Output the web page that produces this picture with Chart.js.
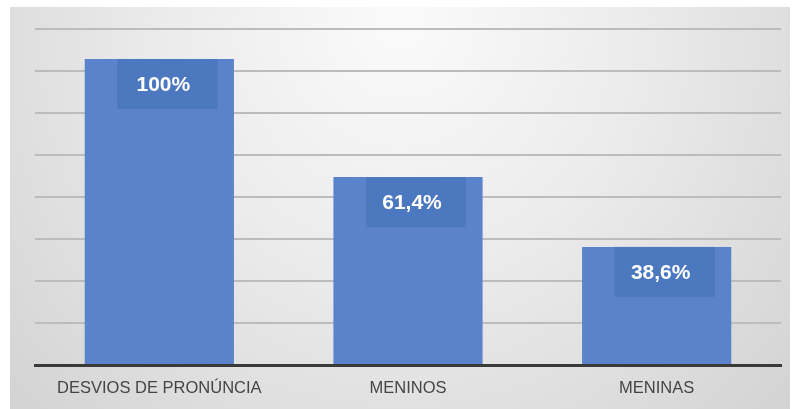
<!DOCTYPE html>
<html>
<head>
<meta charset="utf-8">
<script src="https://cdn.jsdelivr.net/npm/chart.js@4/dist/chart.umd.min.js"></script>
<style>
  html, body { margin: 0; padding: 0; background: #ffffff; }
  #wrap { width: 795px; height: 409px; position: relative; }
</style>
</head>
<body>
<div id="wrap"><canvas id="chart" width="795" height="409"></canvas></div>
<script>
// Categories and their shares (%)
const categories = ['DESVIOS DE PRONÚNCIA', 'MENINOS', 'MENINAS'];
const shares = [100, 61.4, 38.6];

// Value axis: 8 evenly spaced gridlines up to the top of the plot
const axisMax = 109.8;
const gridCount = 8;

function fmtPct(v) {
  return (Number.isInteger(v) ? String(v) : v.toFixed(1).replace('.', ',')) + '%';
}

// Soft grey panel behind the plot
const panelBackground = {
  id: 'panelBackground',
  beforeDraw(chart) {
    const ctx = chart.ctx;
    const x0 = 10, y0 = 7, x1 = 790, y1 = chart.height;
    ctx.save();
    const g = ctx.createRadialGradient(400, 20, 10, 400, 60, 520);
    g.addColorStop(0, '#fafafa');
    g.addColorStop(0.45, '#ebebeb');
    g.addColorStop(1, '#d3d3d3');
    ctx.fillStyle = g;
    ctx.fillRect(x0, y0, x1 - x0, y1 - y0);
    ctx.restore();
  }
};

// Value badges near the top of each bar
const valueBadges = {
  id: 'valueBadges',
  afterDatasetsDraw(chart) {
    const ctx = chart.ctx;
    const meta = chart.getDatasetMeta(0);
    const values = chart.data.datasets[0].data;
    ctx.save();
    meta.data.forEach((bar, i) => {
      const w = 100, h = 50;
      const cx = bar.x + 8;
      ctx.fillStyle = 'rgba(62, 110, 180, 0.5)';
      ctx.fillRect(cx - w / 2, bar.y, w, h);
      ctx.fillStyle = '#ffffff';
      ctx.font = 'bold 21px "Liberation Sans", Arial, sans-serif';
      ctx.textAlign = 'center';
      ctx.textBaseline = 'middle';
      ctx.fillText(fmtPct(values[i]), bar.x + 4, bar.y + 26);
    });
    ctx.restore();
  }
};

new Chart(document.getElementById('chart'), {
  type: 'bar',
  data: {
    labels: categories,
    datasets: [{
      data: shares,
      backgroundColor: '#5a83cb',
      borderWidth: 0,
      barPercentage: 0.6,
      categoryPercentage: 1.0
    }]
  },
  options: {
    responsive: false,
    animation: false,
    layout: { padding: { left: 35, right: 14, top: 29, bottom: 0 } },
    plugins: {
      legend: { display: false },
      tooltip: { enabled: false }
    },
    scales: {
      x: {
        grid: { display: false, drawTicks: false },
        border: { display: true, color: '#3a3a3a', width: 3 },
        afterFit(scale) { scale.height = 44; },
        ticks: {
          color: '#454545',
          padding: 14,
          maxRotation: 0,
          minRotation: 0,
          autoSkip: false,
          font: { family: '"Liberation Sans", Arial, sans-serif', size: 16.5, lineHeight: 1.2 }
        }
      },
      y: {
        min: 0,
        max: axisMax,
        afterBuildTicks(scale) {
          const step = axisMax / gridCount;
          scale.ticks = Array.from({ length: gridCount + 1 }, (_, i) => ({ value: i * step }));
        },
        ticks: { display: false },
        border: { display: false },
        grid: { color: '#bcbcbc', lineWidth: 2, drawTicks: false }
      }
    }
  },
  plugins: [panelBackground, valueBadges]
});
</script>
</body>
</html>
